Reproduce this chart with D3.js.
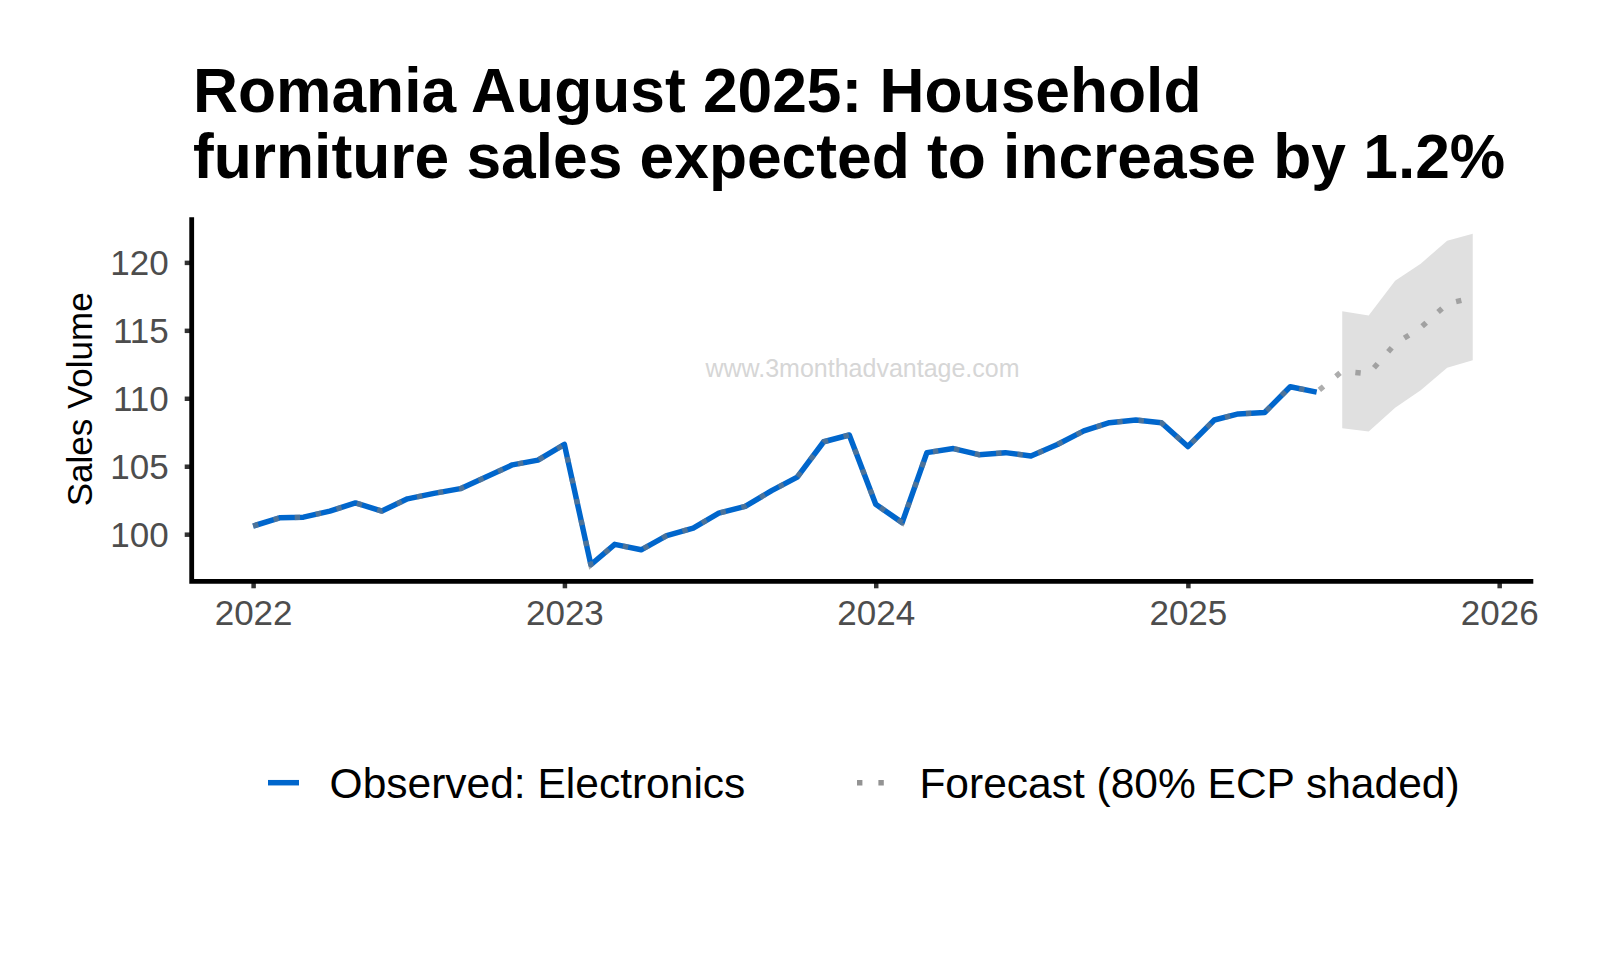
<!DOCTYPE html>
<html>
<head>
<meta charset="utf-8">
<script src="https://cdn.jsdelivr.net/npm/d3@7"></script>
<style>
  html, body { margin: 0; padding: 0; background: #ffffff; }
  svg { display: block; }
  text { font-family: "Liberation Sans", Arial, Helvetica, sans-serif; }
</style>
</head>
<body>
<svg id="chart" width="1600" height="960"></svg>
<script>
// ---- Data ----
const titleLines = ["Romania August 2025: Household", "furniture sales expected to increase by 1.2%"];
const observedStart = "2022-01-01";
const observedValues = [
  100.6, 101.2, 101.25, 101.7, 102.3, 101.7, 102.6, 103.0, 103.35, 104.2, 105.1, 105.45,
  106.6, 97.75, 99.25, 98.85, 99.9, 100.45, 101.55, 102.05, 103.2, 104.2, 106.8, 107.3,
  102.2, 100.85, 106.0, 106.3, 105.85, 106.0, 105.75, 106.6, 107.6, 108.2, 108.4, 108.2,
  106.45, 108.4, 108.85, 108.95, 110.85, 110.45
];
const forecastStart = "2025-07-01";
const forecastMean  = [112.0, 111.8, 114.0, 115.2, 116.95, 117.4];
const forecastLower = [107.8, 107.55, 109.3, 110.6, 112.25, 112.8];
const forecastUpper = [116.4, 116.1, 118.65, 119.9, 121.6, 122.1];
const yTicks = [100, 105, 110, 115, 120];
const xTickYears = [2022, 2023, 2024, 2025, 2026];
const legendLabels = ["Observed: Electronics", "Forecast (80% ECP shaded)"];
const yAxisTitle = "Sales Volume";
const watermark = "www.3monthadvantage.com";

// ---- Build series ----
const parse = d3.utcParse("%Y-%m-%d");
const obs = observedValues.map((v, i) => ({ date: d3.utcMonth.offset(parse(observedStart), i), value: v }));
const fc = forecastMean.map((v, i) => ({
  date: d3.utcMonth.offset(parse(forecastStart), i),
  value: v, lo: forecastLower[i], hi: forecastUpper[i]
}));
const allLine = obs.concat(fc);

// ---- Layout ----
const panel = { left: 191.7, right: 1533.3, top: 217.3, bottom: 581.3 };
const svg = d3.select("#chart");

const firstDate = obs[0].date;
const lastDate = fc[fc.length - 1].date;
const spanDays = (lastDate - firstDate) / 864e5;
const pad = spanDays * 0.05;
const x = d3.scaleUtc()
  .domain([d3.utcDay.offset(firstDate, -pad), d3.utcDay.offset(lastDate, pad)])
  .range([panel.left, panel.right]);

const allVals = observedValues.concat(forecastLower, forecastUpper);
const yMin = d3.min(allVals), yMax = d3.max(allVals);
const yPad = (yMax - yMin) * 0.05;
const y = d3.scaleLinear()
  .domain([yMin - yPad, yMax + yPad])
  .range([panel.bottom, panel.top]);

// ---- Title ----
const title = svg.append("text")
  .attr("font-size", 62.3)
  .attr("font-weight", "bold")
  .attr("fill", "#000");
title.selectAll("tspan").data(titleLines).join("tspan")
  .attr("x", 193)
  .attr("y", (d, i) => 111.7 + i * 66.6)
  .text(d => d);

// ---- Watermark ----
svg.append("text")
  .attr("x", (panel.left + panel.right) / 2)
  .attr("y", 368)
  .attr("text-anchor", "middle")
  .attr("dominant-baseline", "central")
  .attr("font-size", 25)
  .attr("fill", "#d6d6d6")
  .text(watermark);

// ---- Band ----
const area = d3.area()
  .x(d => x(d.date))
  .y0(d => y(d.lo))
  .y1(d => y(d.hi));
svg.append("path")
  .datum(fc)
  .attr("d", area)
  .attr("fill", "#e0e0e0");

// ---- Observed line ----
const line = d3.line().x(d => x(d.date)).y(d => y(d.value));
svg.append("path")
  .datum(obs)
  .attr("d", line)
  .attr("fill", "none")
  .attr("stroke", "#0066cc")
  .attr("stroke-width", 5.5)
  .attr("stroke-linejoin", "round");

// ---- Forecast dotted line (overlay over whole series) ----
svg.append("path")
  .datum(allLine)
  .attr("d", line)
  .attr("fill", "none")
  .attr("stroke", "#7a7a7a")
  .attr("stroke-opacity", 0.62)
  .attr("stroke-width", 5.4)
  .attr("stroke-dasharray", "5.4 16")
  .attr("stroke-linejoin", "miter");

// ---- Axes ----
const xAxis = d3.axisBottom(x)
  .tickValues(xTickYears.map(yr => new Date(Date.UTC(yr, 0, 1))))
  .tickFormat(d3.utcFormat("%Y"))
  .tickSize(7)
  .tickPadding(14)
  .tickSizeOuter(0);
const gx = svg.append("g")
  .attr("transform", `translate(0,${panel.bottom})`)
  .call(xAxis);
gx.select(".domain").remove();
gx.selectAll(".tick line").attr("stroke", "#333").attr("stroke-width", 4.5);
gx.selectAll(".tick text")
  .attr("font-size", 35)
  .attr("fill", "#4d4d4d")
  .attr("dy", null)
  .attr("y", 625.5 - panel.bottom)
  .attr("font-family", "Liberation Sans, Arial, sans-serif");

const yAxis = d3.axisLeft(y)
  .tickValues(yTicks)
  .tickSize(7)
  .tickPadding(16)
  .tickSizeOuter(0);
const gy = svg.append("g")
  .attr("transform", `translate(${panel.left},0)`)
  .call(yAxis);
gy.select(".domain").remove();
gy.selectAll(".tick line").attr("stroke", "#333").attr("stroke-width", 4.5);
gy.selectAll(".tick text")
  .attr("font-size", 35)
  .attr("fill", "#4d4d4d")
  .attr("dy", "0.36em")
  .attr("font-family", "Liberation Sans, Arial, sans-serif");

// axis lines
svg.append("path")
  .attr("d", `M${panel.left},${panel.top}V${panel.bottom}H${panel.right}`)
  .attr("fill", "none")
  .attr("stroke", "#000")
  .attr("stroke-width", 4.8)
  .attr("stroke-linejoin", "miter")
  .attr("stroke-linecap", "butt");

// y-axis title
svg.append("text")
  .attr("transform", `translate(92,${(panel.top + panel.bottom) / 2}) rotate(-90)`)
  .attr("text-anchor", "middle")
  .attr("font-size", 35)
  .attr("fill", "#000")
  .text(yAxisTitle);

// ---- Legend ----
const legY = 782.7;
const leg = svg.append("g");
leg.append("line")
  .attr("x1", 268).attr("x2", 299)
  .attr("y1", legY).attr("y2", legY)
  .attr("stroke", "#0066cc").attr("stroke-width", 5.5);
leg.append("text")
  .attr("x", 329.6).attr("y", legY)
  .attr("dy", "0.36em")
  .attr("font-size", 42.5)
  .attr("fill", "#000")
  .text(legendLabels[0]);
leg.append("line")
  .attr("x1", 857).attr("x2", 888)
  .attr("y1", legY).attr("y2", legY)
  .attr("stroke", "#808080").attr("stroke-opacity", 0.85)
  .attr("stroke-width", 5.4)
  .attr("stroke-dasharray", "5.4 16");
leg.append("text")
  .attr("x", 919.4).attr("y", legY)
  .attr("dy", "0.36em")
  .attr("font-size", 42.5)
  .attr("fill", "#000")
  .text(legendLabels[1]);
</script>
</body>
</html>
